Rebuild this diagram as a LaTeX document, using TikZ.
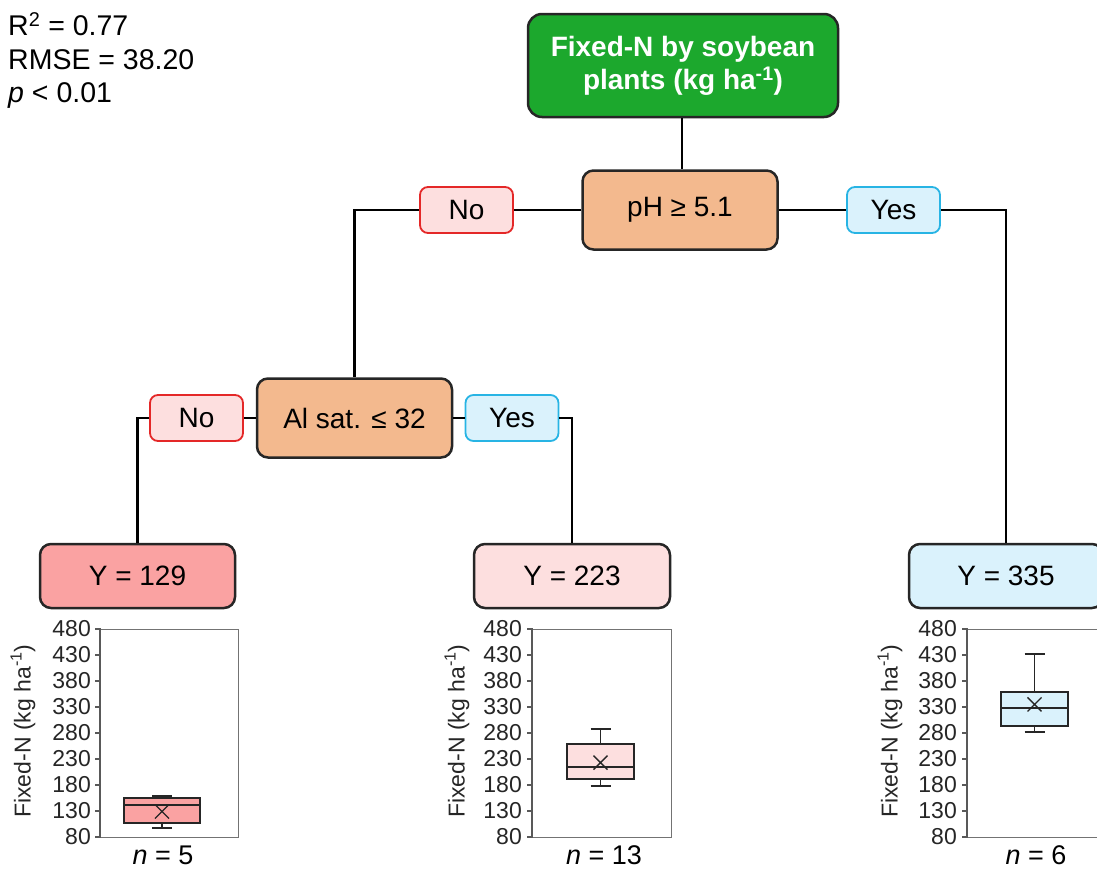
\documentclass[tikz,border=0pt]{standalone}
\usepackage{fontspec}
\setmainfont{Liberation Sans}
\definecolor{rootgreen}{RGB}{28,168,45}
\definecolor{peach}{RGB}{243,185,142}
\definecolor{salmon}{RGB}{250,162,162}
\definecolor{lpink}{RGB}{253,223,223}
\definecolor{lblue}{RGB}{218,242,252}
\definecolor{noborder}{RGB}{228,40,40}
\definecolor{yesborder}{RGB}{40,180,228}
\def\Y#1{\fpeval{837-((#1)-80)*0.52}}
\begin{document}
\begin{tikzpicture}[x=1pt,y=-1pt,
  base/.style={inner sep=0pt, align=center, font=\fontsize{28}{32}\selectfont},
  rootbox/.style={base, draw=black!85, line width=2.5pt, fill=rootgreen, rounded corners=14pt, text=white, font=\fontsize{28}{33}\selectfont\bfseries, minimum width=310pt, minimum height=103pt},
  splitbox/.style={base, draw=black!85, line width=2.5pt, fill=peach, rounded corners=11pt, minimum width=195pt, minimum height=79pt},
  leafbox/.style={base, draw=black!85, line width=2.5pt, rounded corners=11pt, minimum width=195pt, minimum height=64pt},
  nolab/.style={base, draw=noborder, line width=1.8pt, fill=lpink, rounded corners=8pt, minimum width=93pt, minimum height=46pt},
  yeslab/.style={base, draw=yesborder, line width=1.8pt, fill=lblue, rounded corners=8pt, minimum width=93pt, minimum height=46pt},
  conn/.style={line width=2.8pt, black},
  frame/.style={draw=black!55, line width=1pt},
  axisline/.style={draw=black!65, line width=2pt},
  tick/.style={inner sep=0pt, anchor=east, font=\fontsize{23}{24}\selectfont, text=black!85},
  ylab/.style={inner sep=0pt, rotate=90, font=\fontsize{23}{24}\selectfont, text=black!85},
  nlab/.style={inner sep=0pt, font=\fontsize{27}{29}\selectfont},
  bp/.style={draw=black!85, line width=1.6pt},
  stat/.style={inner sep=0pt, anchor=west, font=\fontsize{28.5}{31}\selectfont}
]
\useasboundingbox (0,0) rectangle (1097,868);

% statistics
\node[stat] (r2) at (8,24) {R\textsuperscript{2} = 0.77};
\node[stat] (rmse) at (8,60) {RMSE = 38.20};
\node[stat] (pval) at (8,96) {\textit{p} {\char"3C} 0.01};

% tree nodes
\node[rootbox] (root) at (683,65.5) {Fixed-N by soybean\\plants (kg ha\textsuperscript{-1})};
\node[splitbox] (ph) at (680,210) {pH ≥ 5.1};
\node[nolab] (no1) at (466.5,210) {No};
\node[yeslab] (yes1) at (893.5,210) {Yes};
\node[splitbox] (al) at (354.5,418) {Al sat. ≤ 32};
\node[nolab] (no2) at (196.5,418) {No};
\node[yeslab] (yes2) at (512,418) {Yes};
\node[leafbox, fill=salmon] (y129) at (137.5,576) {Y = 129};
\node[leafbox, fill=lpink, minimum width=196pt] (y223) at (572,576) {Y = 223};
\node[leafbox, fill=lblue, minimum width=194pt] (y335) at (1006,576) {Y = 335};

% connectors
\draw[conn] ([xshift=-1pt]root.south) -- ([xshift=-1pt]root.south |- ph.north);
\draw[conn] (ph.west) -- (no1.east);
\draw[conn] (no1.west) -| (al.north);
\draw[conn] (ph.east) -- (yes1.west);
\draw[conn] (yes1.east) -| (y335.north);
\draw[conn] (al.west) -- (no2.east);
\draw[conn] (no2.west) -| (y129.north);
\draw[conn] (al.east) -- (yes2.west);
\draw[conn] (yes2.east) -| (y223.north);

% ---------- box plot 1 ----------
\draw[frame] (100,629) rectangle (238,837);
\draw[axisline] (100,628) -- (100,838);
\foreach \v in {80,130,...,480} {
  \draw[axisline, line width=1.2pt] (95,\Y{\v}) -- (100,\Y{\v});
  \node[tick] (ta\v) at (91,\Y{\v}) {\v};
}
\node[ylab] (yla) at (23,731) {Fixed-N (kg ha\textsuperscript{-1})};
\node[nlab] (na) at (163,855) {\textit{n} = 5};
\draw[bp] (162,\Y{97}) -- (162,\Y{107});
\draw[bp] (152,\Y{97}) -- (172,\Y{97});
\draw[bp] (162,\Y{155}) -- (162,\Y{159});
\draw[bp] (152,\Y{159}) -- (172,\Y{159});
\filldraw[bp, fill=salmon] (124,\Y{107}) rectangle (200,\Y{155});
\draw[bp] (124,\Y{141}) -- (200,\Y{141});
\draw[bp, line width=1.3pt] (155,\Y{129}-7) -- (169,\Y{129}+7) (155,\Y{129}+7) -- (169,\Y{129}-7);

% ---------- box plot 2 ----------
\draw[frame] (532,629) rectangle (671,837);
\draw[axisline] (532,628) -- (532,838);
\foreach \v in {80,130,...,480} {
  \draw[axisline, line width=1.2pt] (527,\Y{\v}) -- (532,\Y{\v});
  \node[tick] (tb\v) at (522,\Y{\v}) {\v};
}
\node[ylab] (ylb) at (457,731) {Fixed-N (kg ha\textsuperscript{-1})};
\node[nlab] (nb) at (604,855) {\textit{n} = 13};
\draw[bp] (600.5,\Y{178}) -- (600.5,\Y{191});
\draw[bp] (590.5,\Y{178}) -- (610.5,\Y{178});
\draw[bp] (600.5,\Y{259}) -- (600.5,\Y{288});
\draw[bp] (590.5,\Y{288}) -- (610.5,\Y{288});
\filldraw[bp, fill=lpink] (567,\Y{191}) rectangle (634,\Y{259});
\draw[bp] (567,\Y{215}) -- (634,\Y{215});
\draw[bp, line width=1.3pt] (593.5,\Y{223}-7) -- (607.5,\Y{223}+7) (593.5,\Y{223}+7) -- (607.5,\Y{223}-7);

% ---------- box plot 3 ----------
\draw[frame] (967,629) rectangle (1110,837);
\draw[axisline] (967,628) -- (967,838);
\foreach \v in {80,130,...,480} {
  \draw[axisline, line width=1.2pt] (962,\Y{\v}) -- (967,\Y{\v});
  \node[tick] (tc\v) at (957,\Y{\v}) {\v};
}
\node[ylab] (ylc) at (890,731) {Fixed-N (kg ha\textsuperscript{-1})};
\node[nlab] (nc) at (1036,855) {\textit{n} = 6};
\draw[bp] (1034.5,\Y{282}) -- (1034.5,\Y{293});
\draw[bp] (1024.5,\Y{282}) -- (1044.5,\Y{282});
\draw[bp] (1034.5,\Y{359}) -- (1034.5,\Y{432});
\draw[bp] (1024.5,\Y{432}) -- (1044.5,\Y{432});
\filldraw[bp, fill=lblue] (1001,\Y{293}) rectangle (1068,\Y{359});
\draw[bp] (1001,\Y{328}) -- (1068,\Y{328});
\draw[bp, line width=1.3pt] (1027.5,\Y{335}-7) -- (1041.5,\Y{335}+7) (1027.5,\Y{335}+7) -- (1041.5,\Y{335}-7);
\end{tikzpicture}
\end{document}
